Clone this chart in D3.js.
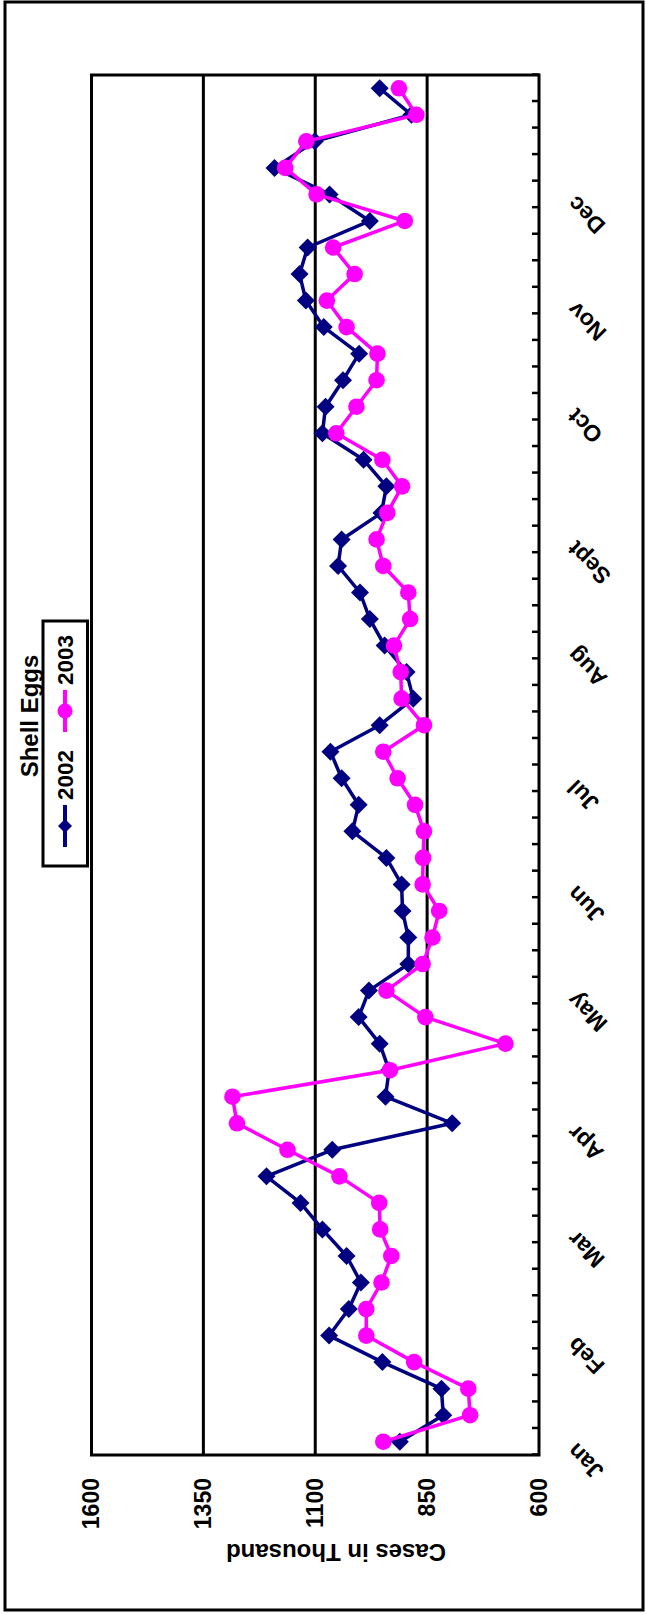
<!DOCTYPE html>
<html>
<head>
<meta charset="utf-8">
<script src="https://cdn.jsdelivr.net/npm/d3@7"></script>
<style>
  html, body { margin: 0; padding: 0; background: #fff; }
  svg { display: block; }
  text { font-family: "Liberation Sans", Arial, sans-serif; font-weight: bold; fill: #000; }
</style>
</head>
<body>
<svg id="chart" width="646" height="1614"></svg>
<script>
// ---- data ----
const weekLabels = [
  "Jan","","","","Feb","","","","Mar","","","","Apr","","","","","May","","","",
  "Jun","","","","Jul","","","","","Aug","","","","Sept","","","","","Oct","","","",
  "Nov","","","","Dec","","","",""
];
const series2002 = [911,814,818,950,1069,1025,998,1030,1084,1133,1209,1062,794,943,935,956,1003,980,892,892,905,907,941,1017,1003,1041,1066,956,881,896,945,978,1000,1049,1041,952,941,992,1084,1077,1038,1002,1081,1121,1135,1117,978,1068,1191,1101,885,956];
const series2003 = [948,754,758,879,986,986,952,930,955,957,1046,1162,1275,1285,933,675,854,941,860,838,823,860,859,857,877,916,948,857,907,909,924,888,892,948,963,939,906,950,1053,1008,963,961,1030,1074,1012,1060,900,1097,1167,1120,874,913];
const valueTicks = [600, 850, 1100, 1350, 1600];
const gridValues = [850, 1100, 1350];
const seriesNames = ["2002", "2003"];
const chartTitle = "Shell Eggs";
const axisTitle = "Cases in Thousand";

// ---- layout ----
const svg = d3.select("#chart");
svg.append("rect").attr("x", 5).attr("y", 2).attr("width", 638).attr("height", 1608)
  .attr("fill", "#fff").attr("stroke", "#000").attr("stroke-width", 3);

const W = 1380, H = 447.5;
const g = svg.append("g").attr("transform", "translate(91.5,1455) rotate(-90)");

const x = d3.scaleBand().domain(d3.range(weekLabels.length)).range([0, W]);
const xEdge = d3.scaleLinear().domain([0, weekLabels.length]).range([0, W]);
const y = d3.scaleLinear().domain([600, 1600]).range([H, 0]);
const cx = i => x(i) + x.bandwidth() / 2;

// plot background
g.append("rect").attr("x", 0).attr("y", 0).attr("width", W).attr("height", H).attr("fill", "#fff");

// gridlines
g.selectAll("line.grid").data(gridValues).join("line")
  .attr("class", "grid")
  .attr("x1", 0).attr("x2", W)
  .attr("y1", d => y(d)).attr("y2", d => y(d))
  .attr("stroke", "#000").attr("stroke-width", 3);

// category ticks (inside)
const xAxis = d3.axisBottom(xEdge).tickValues(d3.range(weekLabels.length + 1))
  .tickSizeInner(-7).tickSizeOuter(0).tickFormat("");
const xa = g.append("g").attr("transform", `translate(0,${H})`).call(xAxis);
xa.select(".domain").remove();
xa.selectAll(".tick line").attr("stroke", "#000").attr("stroke-width", 2.5);

// value axis labels
const yAxis = d3.axisLeft(y).tickValues(valueTicks).tickSize(0).tickPadding(23).tickFormat(d3.format("d"));
const ya = g.append("g").call(yAxis);
ya.select(".domain").remove();
ya.selectAll(".tick text").attr("font-size", 23).attr("font-weight", "bold")
  .attr("font-family", "'Liberation Sans', Arial, sans-serif").attr("fill", "#000");

// plot border
g.append("rect").attr("x", 0).attr("y", 0).attr("width", W).attr("height", H)
  .attr("fill", "none").attr("stroke", "#000").attr("stroke-width", 3);

// month labels
g.selectAll("text.month").data(weekLabels.map((t, i) => ({ t, i })).filter(d => d.t !== ""))
  .join("text").attr("class", "month")
  .attr("transform", d => `translate(${cx(d.i)},${H + 38}) rotate(-45)`)
  .attr("text-anchor", "end").attr("font-size", 23)
  .text(d => d.t);

// axis title
g.append("text")
  .attr("transform", `translate(-97,${244.5}) rotate(-90)`)
  .attr("text-anchor", "middle").attr("dy", "0.35em").attr("font-size", 24)
  .text(axisTitle);

// series
const diamond = s => `M0,${-s}L${s},0L0,${s}L${-s},0Z`;
const line = d3.line().x((d, i) => cx(i)).y(d => y(d));

g.append("path").datum(series2002).attr("d", line)
  .attr("fill", "none").attr("stroke", "#000080").attr("stroke-width", 3.5).attr("stroke-linejoin", "round");
g.selectAll("path.m2002").data(series2002).join("path").attr("class", "m2002")
  .attr("transform", (d, i) => `translate(${cx(i)},${y(d)})`)
  .attr("d", diamond(9)).attr("fill", "#000080");

g.append("path").datum(series2003).attr("d", line)
  .attr("fill", "none").attr("stroke", "#FF00FF").attr("stroke-width", 3.5).attr("stroke-linejoin", "round");
g.selectAll("circle.m2003").data(series2003).join("circle").attr("class", "m2003")
  .attr("cx", (d, i) => cx(i)).attr("cy", d => y(d)).attr("r", 8.3).attr("fill", "#FF00FF");

// chart title
g.append("text").attr("x", 739).attr("y", -61.5).attr("dy", "0.35em")
  .attr("text-anchor", "middle").attr("font-size", 24).text(chartTitle);

// legend
const lg = g.append("g");
lg.append("rect").attr("x", 589).attr("y", -48.5).attr("width", 245).attr("height", 44.5)
  .attr("fill", "#fff").attr("stroke", "#000").attr("stroke-width", 3);
const items = [
  { name: seriesNames[0], color: "#000080", x0: 608, type: "d" },
  { name: seriesNames[1], color: "#FF00FF", x0: 723, type: "c" }
];
items.forEach(it => {
  lg.append("line").attr("x1", it.x0).attr("x2", it.x0 + 42).attr("y1", -26.5).attr("y2", -26.5)
    .attr("stroke", it.color).attr("stroke-width", 4);
  if (it.type === "d") {
    lg.append("path").attr("transform", `translate(${it.x0 + 21},-26.5)`).attr("d", diamond(7)).attr("fill", it.color);
  } else {
    lg.append("circle").attr("cx", it.x0 + 21).attr("cy", -26.5).attr("r", 7.5).attr("fill", it.color);
  }
  lg.append("text").attr("x", it.x0 + 47).attr("y", -26.5).attr("dy", "0.35em")
    .attr("font-size", 22.5).text(it.name);
});
</script>
</body>
</html>
